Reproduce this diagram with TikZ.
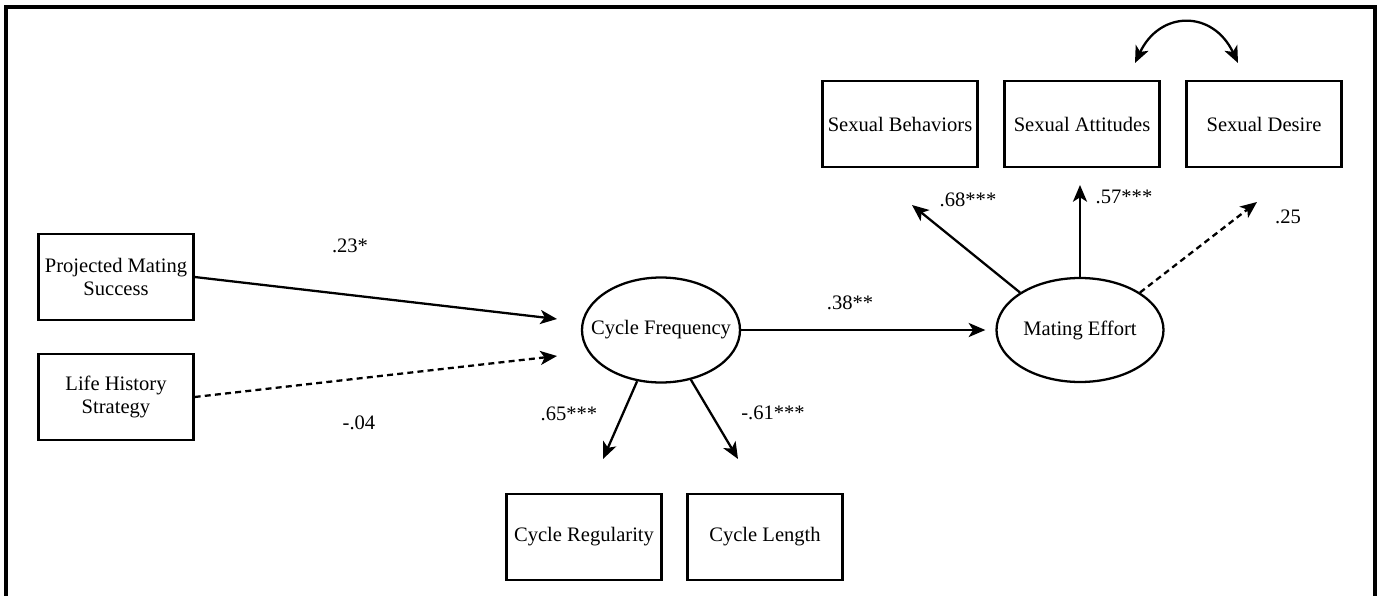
\documentclass[tikz,border=0pt]{standalone}
\usepackage{fontspec}
\setmainfont{Liberation Serif}
\usepackage{tikz}
\usetikzlibrary{arrows.meta,calc,positioning,shapes.geometric}
\tikzset{%
	block/.style    = {draw, rectangle, line width=1.3pt, minimum width=3.1cm, minimum height=1.72cm, inner sep=1pt, align=center}, % observed
	latent/.style   = {draw, ellipse, line width=1.3pt, inner sep=0pt, minimum width=3.2cm, minimum height=2.1cm}, % latent
	coef/.style     = {inner sep=0pt}, % path estimate
	effect/.style   = {line width=1.3pt, ->},
	weak/.style     = {effect, dash pattern=on 3.4pt off 2.4pt},
	frame/.style    = {line width=1.8pt},
}

\begin{document}
\begin{tikzpicture}[node distance=3.64cm,>={Stealth[length=9.5pt,width=8pt,inset=2.5pt]},font=\fontsize{11.7}{13.5}\selectfont]
	\useasboundingbox (0,0) rectangle (27.56,-11.92);
	\draw [frame] (0.12,-11.92) |- (27.5,-0.14) -- (27.5,-11.92);

	\node [block] (pms) at (2.32,-5.54) {Projected Mating\\Success};
	\node [block] (lhs) [below of=pms,node distance=2.4cm] {Life History\\Strategy};
	\node [latent,inner xsep=-0.29cm,minimum width=3.16cm] (cf) at (13.22,-6.6) {Cycle Frequency};
	\node [latent,minimum width=3.34cm,minimum height=2.08cm] (me) at (21.6,-6.6) {Mating Effort};
	\node [block] (cr) at (11.68,-10.74) {Cycle Regularity};
	\node [block] (cl) [right of=cr,node distance=3.62cm] {Cycle Length};
	\node [block] (sb) at (18.0,-2.48) {Sexual Behaviors};
	\node [block] (sa) [right of=sb] {Sexual Attitudes};
	\node [block] (sd) [right of=sa] {Sexual Desire};

	\coordinate (t1) at (11.14,-6.38);
	\coordinate (t2) at (11.14,-7.12);
	\coordinate [left=0.2cm of me.west] (t3);
	\coordinate (t4) at (12.06,-9.18);
	\coordinate (t5) at (14.76,-9.18);
	\coordinate (t6) at (18.24,-4.1);
	\coordinate (t7) at (21.6,-3.7);
	\coordinate (t8) at (25.14,-4.04);
	\coordinate (c1) at (22.7,-1.26);
	\coordinate (c2) at (24.76,-1.26);

	\node [coef] (b1) at (7.0,-4.92) {.23*};
	\node [coef] (b2) at (7.18,-8.46) {-.04};
	\node [coef] (b3) at (17.0,-6.06) {.38**};
	\node [coef] (b4) at (11.38,-8.28) {.65***};
	\node [coef] (b5) at (15.46,-8.26) {-.61***};
	\node [coef] (b6) at (19.36,-4.0) {.68***};
	\node [coef] (b7) at (22.48,-3.94) {.57***};
	\node [coef] (b8) at (25.76,-4.34) {.25};

	\draw [effect] (pms.east) -- (t1);
	\draw [weak] (lhs.east) -- (t2);
	\draw [effect] (cf) -- (t3);
	\draw [effect] (cf.-115) -- (t4);
	\draw [effect] (cf.-59) -- (t5);
	\draw [effect] (me.148) -- (t6);
	\draw [effect] (me) -- (t7);
	\draw [weak] (me.32) -- (t8);
	\draw [effect,<->] (c1) .. controls +(0.5,1.06) and +(-0.5,1.06) .. (c2);
\end{tikzpicture}
\end{document}
